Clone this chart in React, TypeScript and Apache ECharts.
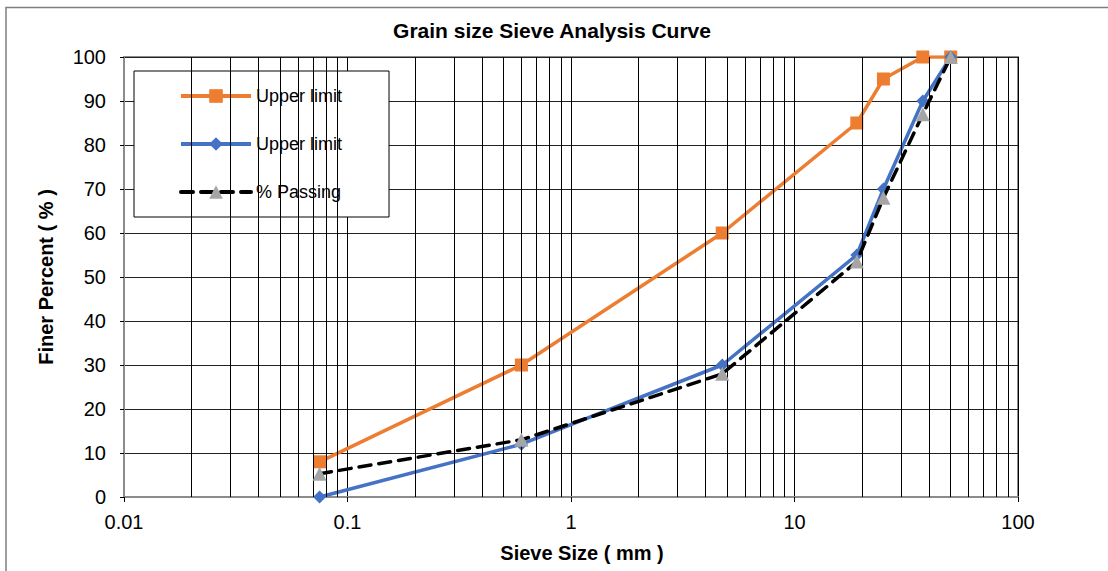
import React, { useEffect, useRef } from "react";
import * as echarts from "echarts";

const sieveSizes = [0.075, 0.6, 4.75, 19, 25, 37.5, 50];
const upperLimit = [8, 30, 60, 85, 95, 100, 100];
const lowerLimit = [0, 12, 30, 55, 70, 90, 100];
const passing = [5.3, 13, 28, 53.5, 68, 87, 100];
const minorGridX = [
  0.02, 0.03, 0.04, 0.05, 0.06, 0.07, 0.08, 0.09,
  0.2, 0.3, 0.4, 0.5, 0.6, 0.7, 0.8, 0.9,
  2, 3, 4, 5, 6, 7, 8, 9,
  20, 30, 40, 50, 60, 70, 80, 90,
];

const FONT = "'Liberation Sans', Arial, sans-serif";

export default function App() {
  const ref = useRef<HTMLDivElement>(null);
  useEffect(() => {
    if (!ref.current) return;
    const chart = echarts.init(ref.current, undefined, { renderer: "svg" });
    const pair = (ys: number[]) => sieveSizes.map((x, i) => [x, ys[i]]);
    chart.setOption({
      animation: false,
      backgroundColor: "#fff",
      textStyle: { fontFamily: FONT },
      title: {
        text: "Grain size Sieve Analysis Curve",
        left: 547,
        textAlign: "center",
        top: 15,
        textStyle: { fontFamily: FONT, fontSize: 21, fontWeight: "bold", color: "#000" },
      },
      graphic: [
        {
          type: "polyline",
          shape: { points: [[6, 600], [6, 7.5], [1110, 7.5]] },
          style: { stroke: "#7f7f7f", lineWidth: 1.5, fill: "none" },
          silent: true,
        },
      ],
      grid: {
        left: 124,
        top: 57,
        right: 90,
        bottom: 74,
        show: true,
        borderColor: "#8c8c8c",
        borderWidth: 2,
        backgroundColor: "transparent",
      },
      legend: {
        orient: "vertical",
        left: 134,
        top: 71,
        data: ["Upper limit", "Lower limit", "% Passing"],
        formatter: (n: string) => (n === "Lower limit" ? "Upper limit" : n),
        itemWidth: 70,
        itemHeight: 17,
        itemGap: 30,
        padding: [16, 47, 16, 45],
        borderColor: "#000",
        borderWidth: 1,
        backgroundColor: "#fff",
        borderRadius: 0,
        lineStyle: { width: 4 },
        textStyle: { fontFamily: FONT, fontSize: 18, color: "#000" },
      },
      xAxis: {
        type: "log",
        logBase: 10,
        min: 0.01,
        max: 100,
        name: "Sieve Size ( mm )",
        nameLocation: "middle",
        nameGap: 46,
        nameTextStyle: { fontFamily: FONT, fontSize: 20, fontWeight: "bold", color: "#000", padding: [0, 0, 0, 22] },
        axisLine: { show: true, lineStyle: { color: "#8c8c8c", width: 2 } },
        axisTick: { show: true, inside: false, length: 5, lineStyle: { color: "#000" } },
        axisLabel: {
          fontFamily: FONT,
          fontSize: 20,
          color: "#000",
          margin: 15,
          formatter: (v: number) => String(Number(v.toPrecision(6))),
        },
        splitLine: { show: true, lineStyle: { color: "#000", width: 1 } },
      },
      yAxis: {
        type: "value",
        min: 0,
        max: 100,
        interval: 10,
        name: "Finer Percent ( % )",
        nameLocation: "middle",
        nameGap: 68,
        nameTextStyle: { fontFamily: FONT, fontSize: 20, fontWeight: "bold", color: "#000" },
        axisLine: { show: true, lineStyle: { color: "#8c8c8c", width: 2 } },
        axisTick: { show: true, inside: false, length: 4, lineStyle: { color: "#000" } },
        axisLabel: { fontFamily: FONT, fontSize: 20, color: "#000", margin: 18 },
        splitLine: { show: true, lineStyle: { color: "#222", width: 1 } },
      },
      series: [
        {
          name: "grid",
          type: "line",
          data: [],
          silent: true,
          z: 1,
          markLine: {
            silent: true,
            symbol: "none",
            label: { show: false },
            lineStyle: { color: "#000", width: 1, type: "solid" },
            data: minorGridX.map((v) => ({ xAxis: v })),
          },
        },
        {
          name: "Upper limit",
          type: "line",
          data: pair(upperLimit),
          symbol: "rect",
          symbolSize: 13,
          color: "#ED7D31",
          lineStyle: { color: "#ED7D31", width: 3.5 },
          itemStyle: { color: "#ED7D31" },
          z: 3,
        },
        {
          name: "Lower limit",
          type: "line",
          data: pair(lowerLimit),
          symbol: "diamond",
          symbolSize: 13,
          color: "#4472C4",
          lineStyle: { color: "#4472C4", width: 3.5 },
          itemStyle: { color: "#4472C4" },
          z: 4,
        },
        {
          name: "% Passing",
          type: "line",
          data: pair(passing),
          symbol: "triangle",
          symbolSize: 14,
          color: "#A5A5A5",
          lineStyle: { color: "#000", width: 3.5, type: [12, 8], cap: "round" },
          itemStyle: { color: "#A5A5A5" },
          z: 5,
        },
      ],
    });
    return () => chart.dispose();
  }, []);
  return (
    <div
      ref={ref}
      style={{ position: "absolute", left: 0, top: 0, width: 1108, height: 571, background: "#fff" }}
    />
  );
}
